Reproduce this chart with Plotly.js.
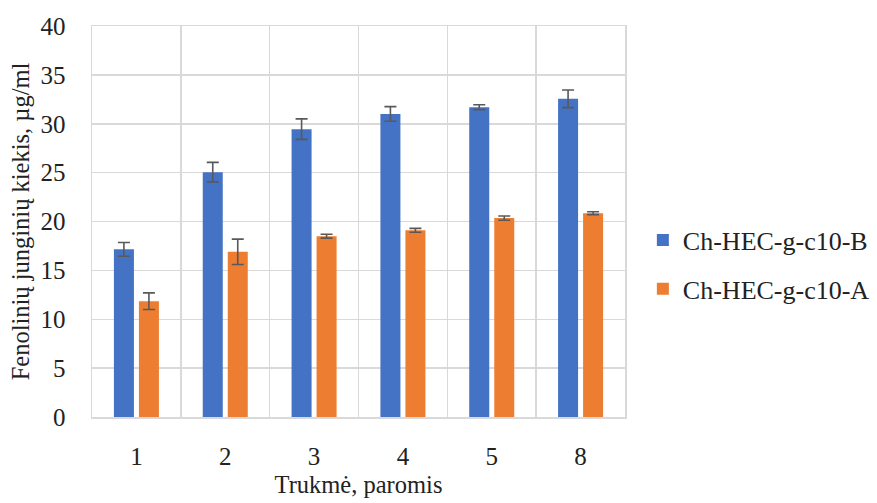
<!DOCTYPE html>
<html><head><meta charset="utf-8">
<script src="https://cdn.plot.ly/plotly-3.0.1.min.js"></script>
<style>html,body{margin:0;padding:0;background:#fff}</style>
</head><body>
<div id="chart" style="width:877px;height:503px"></div>
<script>
const categories = ["1","2","3","4","5","8"];
const seriesB = [17.15, 25.05, 29.45, 31.0, 31.7, 32.55];
const errB = [0.7, 1.0, 1.05, 0.75, 0.25, 0.9];
const seriesA = [11.85, 16.9, 18.5, 19.1, 20.35, 20.85];
const errA = [0.85, 1.3, 0.2, 0.2, 0.22, 0.15];
const nameB = "Ch-HEC-g-c10-B";
const nameA = "Ch-HEC-g-c10-A";
const font = "'Liberation Serif', 'Times New Roman', Times, serif";
const errStyle = {type:"data", visible:true, color:"#595959", thickness:1.6, width:6};
const traces = [
  {type:"bar", x:categories, y:seriesB, name:nameB, legendgroup:"b",
   marker:{color:"#4472C4"}, error_y:Object.assign({array:errB}, errStyle)},
  {type:"bar", x:categories, y:seriesA, name:nameA, legendgroup:"a",
   marker:{color:"#ED7D31"}, error_y:Object.assign({array:errA}, errStyle)}
];
const layout = {
  width:877, height:503,
  margin:{l:92, r:252, t:26, b:86, autoexpand:false},
  paper_bgcolor:"#fff", plot_bgcolor:"#fff",
  font:{family:font, size:25, color:"#222"},
  barmode:"group", bargap:0.437, bargroupgap:0.2,
  xaxis:{type:"category", tickson:"boundaries", showgrid:true, gridcolor:"#d9d9d9", gridwidth:1.5,
    ticks:"", ticklabelstandoff:16, showline:true, linecolor:"#d9d9d9", linewidth:1.5, mirror:true,
    tickfont:{family:font, size:25, color:"#222"},
    title:{text:"Trukmė, paromis", font:{family:font, size:24.5, color:"#222"}, standoff:7}},
  yaxis:{range:[0,40], dtick:5, showgrid:true, gridcolor:"#d9d9d9", gridwidth:1.5, zeroline:false,
    showline:true, linecolor:"#d9d9d9", linewidth:1.5, mirror:true, ticks:"", ticklabelstandoff:20,
    tickfont:{family:font, size:25, color:"#222"},
    title:{text:"Fenolinių junginių kiekis, µg/ml", font:{family:font, size:24.5, color:"#222"}, standoff:4}},
  legend:{x:1.0335, y:0.39, xanchor:"left", yanchor:"middle", tracegroupgap:12,
    font:{family:font, size:26, color:"#222"}, itemwidth:30},
  showlegend:true
};
Plotly.newPlot("chart", traces, layout, {displayModeBar:false, staticPlot:true});
</script>
</body></html>
